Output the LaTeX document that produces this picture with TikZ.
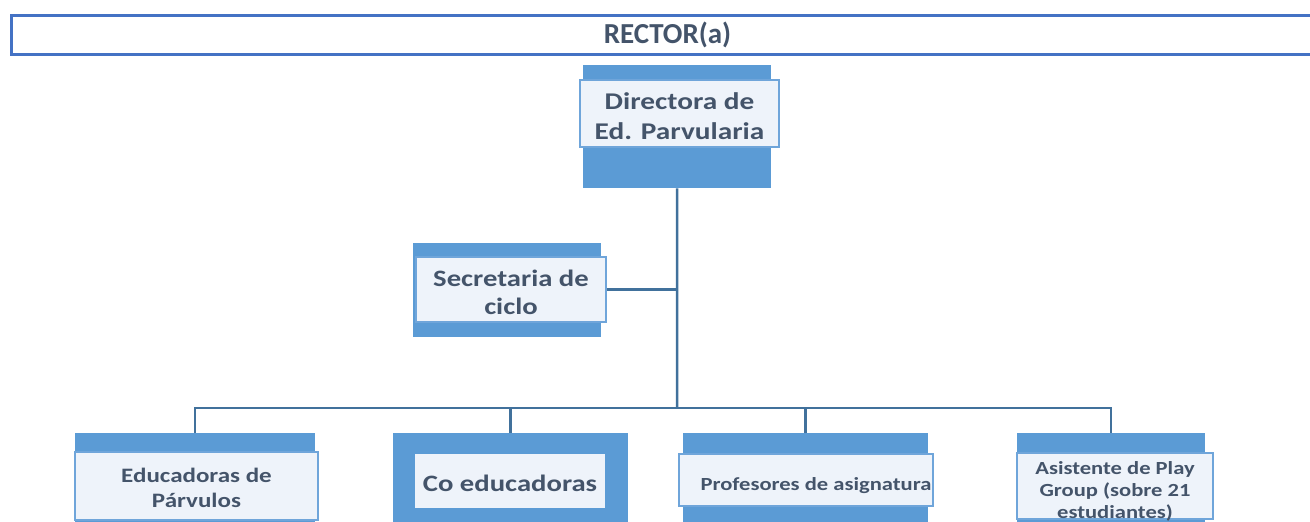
\documentclass[tikz,border=0pt]{standalone}
\usepackage{fontspec}
\setmainfont{Carlito}
\newfontfamily\boxfont{Carlito}[FakeStretch=1.22]
\usepackage{tikz}
\usetikzlibrary{positioning}
\definecolor{barblue}{HTML}{5B9BD5}
\definecolor{rimblue}{HTML}{6FA5DA}
\definecolor{linkblue}{HTML}{41719C}
\definecolor{rectorblue}{HTML}{4472C4}
\definecolor{paleblue}{HTML}{EEF3FA}
\definecolor{inkgray}{HTML}{44546A}
\newcommand\droptext[2]{\raisebox{-#1}[\height][\depth]{\begin{tabular}{@{}c@{}}#2\end{tabular}}}

\begin{document}
\begin{tikzpicture}[x=1pt, y=-1pt,
	back/.style={fill=barblue, inner sep=0pt, anchor=north west},
	front/.style={fill=paleblue, draw=rimblue, line width=2pt, inner sep=0pt, anchor=north west,
		text=inkgray, align=center, font=\boxfont\bfseries},
	link/.style={draw=linkblue, line width=2.5pt}]
\useasboundingbox (0,0) rectangle (1310,522);
\node (rector) [draw=rectorblue, line width=3pt, anchor=north west, minimum width=1312pt, minimum height=39pt,
	text=inkgray, font=\bfseries\fontsize{29}{30}\selectfont] at (10,13.5) {RECTOR(a)};
\node (dirB) [back, minimum width=188pt, minimum height=123pt] at (583,65) {};
\node (secB) [back, minimum width=188pt, minimum height=94pt] at (413,243) {};
\node (eduB) [back, minimum width=240pt, minimum height=95pt] at (75,433) {};
\node (coB) [back, minimum width=235pt, minimum height=95pt] at (393,433) {};
\node (proB) [back, minimum width=245pt, minimum height=95pt] at (683,433) {};
\node (asiB) [back, minimum width=188pt, minimum height=95pt] at (1017,433) {};
\node (dirF) [front, minimum width=199pt, minimum height=67pt, font=\boxfont\bfseries\fontsize{24}{30}\selectfont]
	at (579,79) {\droptext{5pt}{Directora de\\Ed. Parvularia}};
\node (secF) [front, minimum width=190pt, minimum height=65pt, font=\boxfont\bfseries\fontsize{23.5}{28}\selectfont]
	at (415,256) {\droptext{5pt}{Secretaria de\\ciclo}};
\node (eduF) [front, minimum width=243pt, minimum height=68pt, font=\boxfont\bfseries\fontsize{20.5}{25}\selectfont]
	at (74,451) {\droptext{4pt}{Educadoras de\\P\'arvulos}};
\node (coF) [front, draw=none, minimum width=190pt, minimum height=54pt, font=\boxfont\bfseries\fontsize{23.5}{28}\selectfont]
	at (414,453) {\droptext{5pt}{Co educadoras}};
\node (proF) [front, minimum width=254pt, minimum height=52pt, font=\boxfont\bfseries\fontsize{18.5}{22}\selectfont]
	at (678,453) {\droptext{6pt}{\hspace*{20pt}Profesores de asignatura}};
\node (asiF) [front, minimum width=196pt, minimum height=63pt, font=\boxfont\bfseries\fontsize{18.5}{22}\selectfont]
	at (1016,452) {\droptext{6pt}{Asistente de Play\\Group (sobre 21\\estudiantes)}};
\coordinate (bus) at (677,408);
\draw[link] (dirB.south) -- (bus);
\draw[link] (secF.east) -- (secF.east -| dirB.south);
\draw[link] (eduB.north) |- (bus) -| (asiB.north);
\draw[link] (coB.north) -- (coB.north |- bus);
\draw[link] (proB.north) -- (proB.north |- bus);
\end{tikzpicture}
\end{document}
